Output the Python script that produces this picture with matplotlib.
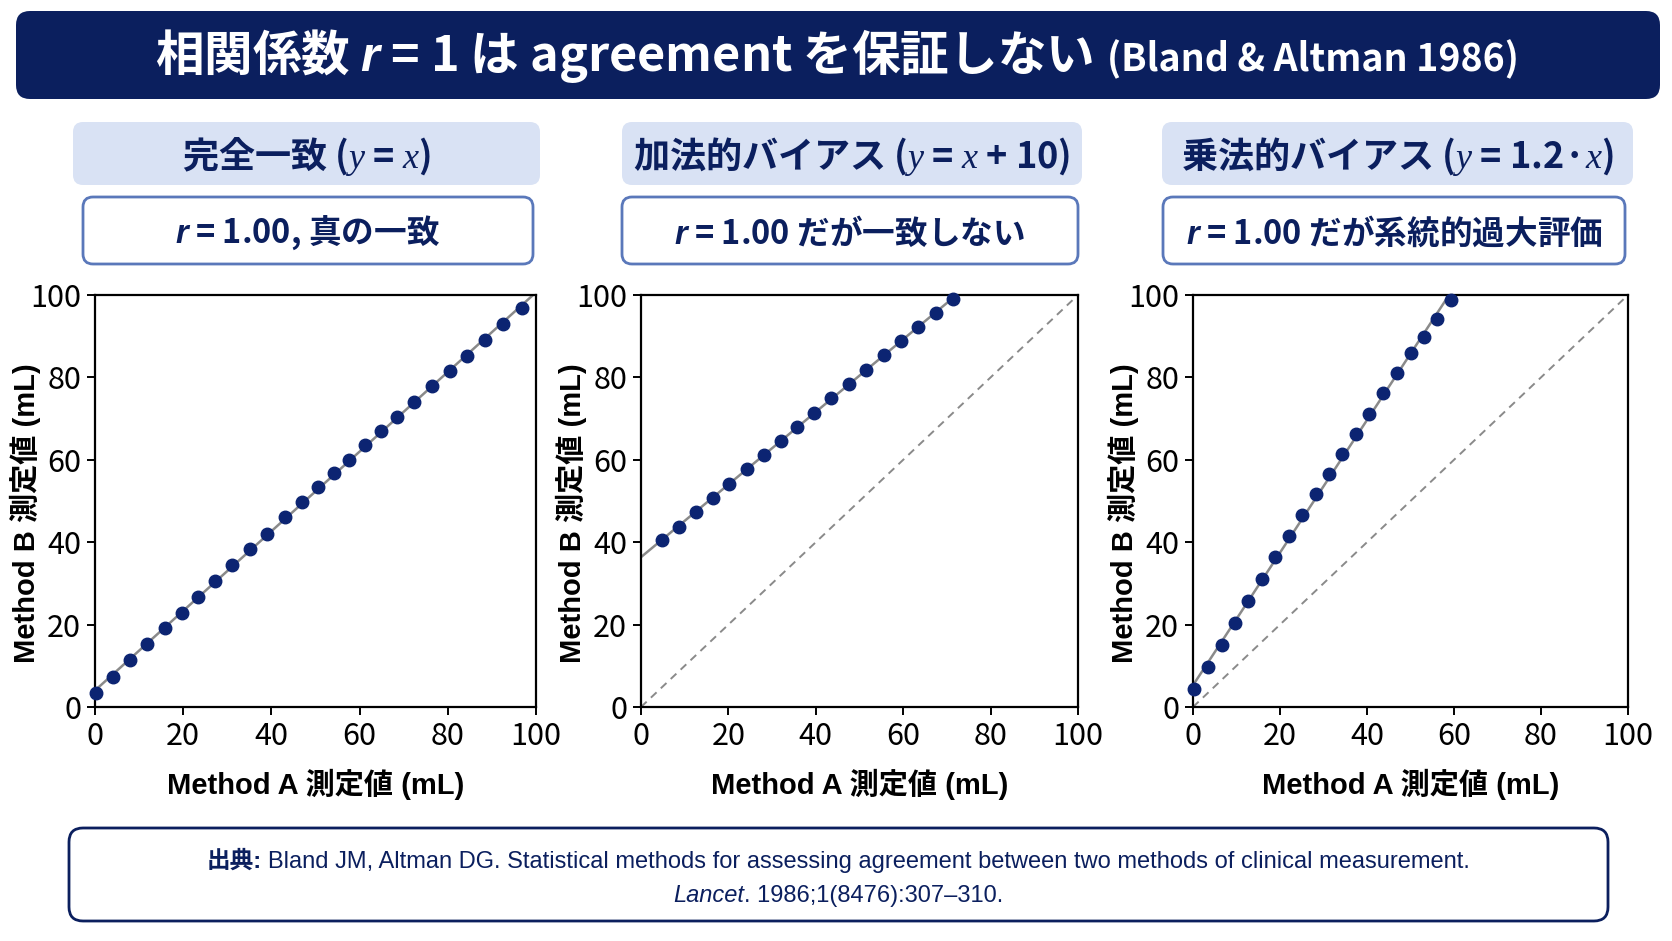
import numpy as np
import matplotlib
matplotlib.use("Agg")
import matplotlib.pyplot as plt
from matplotlib.patches import FancyBboxPatch

# data (Method A vs Method B, mL)
x_same = [0.2, 4.0, 8.0, 11.9, 15.8, 19.7, 23.3, 27.2, 31.1, 35.2, 39.1, 43.1, 47.0,
          50.5, 54.1, 57.6, 61.2, 64.9, 68.5, 72.4, 76.4, 80.4, 84.4, 88.4, 92.5, 96.8]
y_same = [3.5, 7.3, 11.3, 15.3, 19.2, 22.9, 26.7, 30.6, 34.4, 38.3, 42.1, 46.0, 49.8,
          53.3, 56.8, 60.0, 63.5, 66.9, 70.4, 74.0, 78.0, 81.5, 85.2, 89.1, 92.9, 96.8]

x_add = [4.7, 8.6, 12.5, 16.4, 20.2, 24.2, 28.1, 32.0, 35.8, 39.7, 43.5, 47.6,
         51.5, 55.5, 59.5, 63.5, 67.5, 71.5]
y_add = [40.5, 43.8, 47.3, 50.8, 54.2, 57.7, 61.1, 64.6, 68.0, 71.4, 74.9, 78.4,
         81.9, 85.4, 88.9, 92.3, 95.7, 99.1]

x_mul = [0.3, 3.5, 6.6, 9.6, 12.7, 15.9, 18.9, 22.0, 25.1, 28.2, 31.2, 34.3, 37.4,
         40.5, 43.6, 46.8, 50.0, 53.1, 56.2, 59.4]
y_mul = [4.3, 9.7, 15.1, 20.4, 25.7, 31.0, 36.3, 41.5, 46.5, 51.6, 56.6, 61.4, 66.2,
         71.2, 76.1, 81.0, 86.0, 89.9, 94.2, 98.8]

panel_titles = ["完全一致 ($\\mathsf{y}$ = $\\mathsf{x}$)",
                "加法的バイアス ($\\mathsf{y}$ = $\\mathsf{x}$ + 10)",
                "乗法的バイアス ($\\mathsf{y}$ = 1.2·$\\mathsf{x}$)"]
r_notes = ["$r$ = 1.00, 真の一致",
           "$r$ = 1.00 だが一致しない",
           "$r$ = 1.00 だが系統的過大評価"]
ticks = [0, 20, 40, 60, 80, 100]

NAVY = "#0b1f5e"
DOT = "#0c2472"
GRAY = "#8a8a8a"
HEAD_BG = "#d9e2f4"
BOX_EDGE = "#5a78ba"

plt.rcParams['font.family'] = ['Noto Sans CJK JP', 'DejaVu Sans']
plt.rcParams['mathtext.fontset'] = 'custom'
plt.rcParams['mathtext.it'] = 'Liberation Sans:italic:bold'
plt.rcParams['mathtext.sf'] = 'Liberation Serif:italic'
plt.rcParams['mathtext.rm'] = 'Liberation Sans'

W, H = 1672, 941
fig = plt.figure(figsize=(W / 100, H / 100), dpi=100)
fig.patch.set_facecolor("white")

# background layer in pixel coordinates (y going down)
bg = fig.add_axes([0, 0, 1, 1], zorder=0)
bg.set_xlim(0, W)
bg.set_ylim(H, 0)
bg.axis("off")
renderer = fig.canvas.get_renderer()


def rbox(x0, y0, x1, y1, fc, ec="none", lw=0, pad=10):
    p = FancyBboxPatch((x0, y0), x1 - x0, y1 - y0,
                       boxstyle=f"round,pad=0,rounding_size={pad}",
                       fc=fc, ec=ec, lw=lw, mutation_aspect=1)
    bg.add_patch(p)


def pieces(cx, base, parts):
    # several text runs side by side, centred on cx; a number means a gap in px
    items = []
    for part in parts:
        if isinstance(part, (int, float)):
            items.append((None, part))
        else:
            s, kw = part
            t = bg.text(0, base, s, ha="left", va="baseline", **kw)
            items.append((t, t.get_window_extent(renderer).width))
    x = cx - sum(w for _, w in items) / 2
    for t, w in items:
        if t is not None:
            t.set_x(x)
        x += w


# title banner
rbox(16, 11, 1660, 99, NAVY, pad=14)
pieces(837, 71, [
    ("相関係数 $r$ = 1 は agreement を保証しない", dict(fontsize=35, fontweight="bold", color="white")),
    14,
    ("(Bland & Altman 1986)", dict(fontsize=27, fontweight="bold", color="white")),
])

axes_px = [(95, 536), (641, 1078), (1193, 1628)]
head_px = [((73, 540), (83, 533)), ((622, 1082), (622, 1078)), ((1162, 1633), (1163, 1625))]
series = [(x_same, y_same), (x_add, y_add), (x_mul, y_mul)]
top, bot = 295, 707
label_font = ['Liberation Sans', 'Noto Sans CJK JP']

for i in range(3):
    (hx0, hx1), (bx0, bx1) = head_px[i]
    rbox(hx0, 122, hx1, 185, HEAD_BG, pad=10)
    bg.text((hx0 + hx1) / 2, 156, panel_titles[i], ha="center", va="center",
            fontsize=26, fontweight="bold", color=NAVY)
    rbox(bx0, 197, bx1, 264, "white", ec=BOX_EDGE, lw=2, pad=10)
    bg.text((bx0 + bx1) / 2, 233, r_notes[i], ha="center", va="center",
            fontsize=23.5, fontweight="bold", color=NAVY)

    x0, x1 = axes_px[i]
    ax = fig.add_axes([x0 / W, 1 - bot / H, (x1 - x0) / W, (bot - top) / H], zorder=2)
    xs, ys = np.array(series[i][0]), np.array(series[i][1])
    grid = np.array([0, 100])
    if i > 0:
        ax.plot(grid, grid, ls=(0, (4, 3)), color=GRAY, lw=1.4, zorder=1)
    k, b = np.polyfit(xs, ys, 1)
    ax.plot(grid, k * grid + b, color=GRAY, lw=1.8, zorder=2)
    ax.plot(xs, ys, "o", color=DOT, ms=9, zorder=3, clip_on=False)

    ax.set_xlim(0, 100)
    ax.set_ylim(0, 100)
    ax.set_xticks(ticks)
    ax.set_yticks(ticks)
    for sp in ax.spines.values():
        sp.set_linewidth(1.6)
        sp.set_color("black")
    ax.tick_params(length=6, width=1.4, labelsize=22, pad=4)

    ax.set_xlabel("Method A 測定値 (mL)", fontsize=21, fontweight="bold", color="black",
                  family=label_font)
    ax.set_ylabel("Method B 測定値 (mL)", fontsize=21, fontweight="bold", color="black",
                  family=label_font)
    wpx = x1 - x0
    ax.xaxis.set_label_coords(0.5, -62 / (bot - top))
    ax.yaxis.set_label_coords(-54 / wpx, 0.47)

# source footer
rbox(69, 828, 1608, 921, "white", ec=NAVY, lw=2, pad=14)
foot = ['Liberation Sans', 'Noto Sans CJK JP']
pieces(838, 868, [
    ("出典:", dict(fontsize=17, fontweight="bold", color=NAVY, family=foot)),
    6,
    ("Bland JM, Altman DG. Statistical methods for assessing agreement between two methods of clinical measurement.",
     dict(fontsize=17, color=NAVY, family=foot)),
])
pieces(838, 902, [
    ("Lancet", dict(fontsize=17, style="italic", color=NAVY, family=foot)),
    (". 1986;1(8476):307–310.", dict(fontsize=17, color=NAVY, family=foot)),
])

fig.savefig("out.png", dpi=100, facecolor="white")
